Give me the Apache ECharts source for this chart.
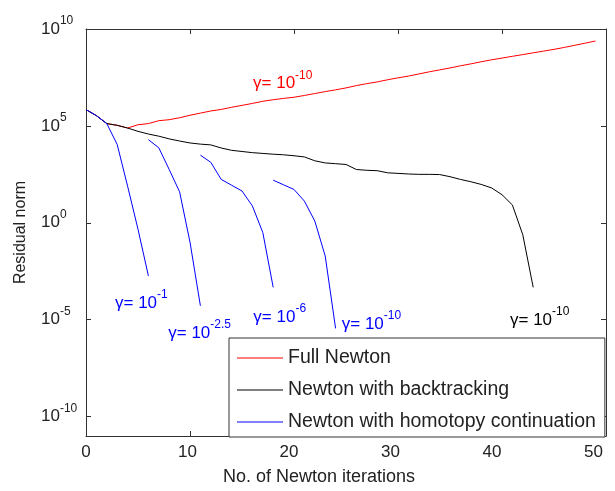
<!DOCTYPE html>
<html>
<head>
<meta charset="utf-8">
<script src="https://cdn.jsdelivr.net/npm/echarts@6/dist/echarts.min.js"></script>
<style>
  html, body { margin: 0; padding: 0; background: #fff; }
  #chart { width: 615px; height: 491px; }
</style>
</head>
<body>
<div id="chart"></div>
<script>
// Residual norm per Newton iteration, stored as log10 of the norm.
const fullNewtonIter = [0,1,2,3,4,5,6,7,8,9,10,11,12,13,14,15,16,17,18,19,20,21,22,23,24,25,26,27,28,29,30,31,32,33,34,35,36,37,38,39,40,41,42,43,44,45,46,47,48,49];
const fullNewtonLog = [5.84,5.53,5.12,5.03,4.89,5.06,5.12,5.27,5.32,5.42,
  5.55,5.66,5.77,5.85,5.96,6.06,6.16,6.27,6.35,6.42,
  6.48,6.57,6.67,6.77,6.86,6.96,7.08,7.18,7.27,7.38,
  7.48,7.57,7.68,7.79,7.89,7.99,8.10,8.20,8.31,8.41,
  8.50,8.59,8.68,8.77,8.86,8.95,9.05,9.16,9.27,9.38];

const backtrackIter = [0,1,2,3,4,5,6,7,8,9,10,11,12,13,14,15,16,17,18,19,20,21,22,23,24,25,26,27,28,29,30,31,32,33,34,35,36,37,38,39,40,41,42,43];
const backtrackLog = [5.84,5.53,5.12,5.03,4.89,4.72,4.58,4.47,4.33,4.22,
  4.12,4.06,4.02,3.86,3.74,3.68,3.62,3.58,3.54,3.51,
  3.46,3.40,3.20,3.09,3.05,3.01,2.75,2.71,2.69,2.58,
  2.55,2.52,2.50,2.50,2.49,2.38,2.24,2.12,1.98,1.80,
  1.45,0.92,-0.62,-3.33];

// Homotopy continuation: one Newton run per gamma step
const homotopyIter = [
  [0,1,2,3,4,5,6],
  [6,7,8,9,10,11],
  [11,12,13,14,15,16,17,18],
  [18,19,20,21,22,23,24]
];
const homotopyLog = [
  [5.84,5.53,5.12,4.04,1.89,-0.33,-2.74],
  [4.29,3.87,2.75,1.60,-1.00,-4.28],
  [3.49,3.12,2.24,1.94,1.64,0.87,-0.50,-3.33],
  [2.20,1.96,1.72,1.12,0.09,-1.71,-5.45]
];

const seriesNames = ['Full Newton', 'Newton with backtracking', 'Newton with homotopy continuation'];
const xTicks = [0, 10, 20, 30, 40, 50];
const yTickExponents = [-10, -5, 0, 5, 10];

// gamma labels: exponent text, colour, anchor [iteration, log10 norm] at the label's left-middle
const gammaLabels = [
  { exp: '-10',  color: '#ff0000', at: [16.06, 7.2] },
  { exp: '-1',   color: '#0000ff', at: [2.79, -4.14] },
  { exp: '-2.5', color: '#0000ff', at: [7.91, -5.68] },
  { exp: '-6',   color: '#0000ff', at: [16.09, -4.86] },
  { exp: '-10',  color: '#0000ff', at: [24.59, -5.22] },
  { exp: '-10',  color: '#000000', at: [40.77, -5.01] }
];

const pairs = (xs, logs) => xs.map((x, i) => [x, Math.pow(10, logs[i])]);
const yTickValues = yTickExponents.map(e => Math.pow(10, e));

const FONT = '"Liberation Sans", Arial, Helvetica, sans-serif';
const AXIS_COLOR = '#333';
const TEXT_COLOR = '#222';

const chart = echarts.init(document.getElementById('chart'), null, { renderer: 'canvas' });

const lineSeries = (name, data, color, z) => ({
  name, type: 'line', data, z,
  symbol: 'none', showSymbol: false, smooth: false,
  color: color,
  itemStyle: { color: color },
  lineStyle: { color: color, width: 1 },
  emphasis: { disabled: true },
  animation: false
});

const series = [
  lineSeries(seriesNames[0], pairs(fullNewtonIter, fullNewtonLog), '#ff0000', 2),
  lineSeries(seriesNames[1], pairs(backtrackIter, backtrackLog), '#000000', 3)
];
homotopyIter.forEach((xs, k) => {
  series.push(lineSeries(seriesNames[2], pairs(xs, homotopyLog[k]), '#0000ff', 4));
});

// bottom tick labels sit slightly left of their ticks, more so further right
const xLabelRich = {};
xTicks.forEach(v => {
  xLabelRich['t' + v] = { fontFamily: FONT, fontSize: 17, color: TEXT_COLOR, padding: [0, Math.round(v * 0.5), 0, 0] };
});

const tickStyle = { show: true, inside: true, length: 5, lineStyle: { color: AXIS_COLOR, width: 1 } };

chart.setOption({
  animation: false,
  backgroundColor: '#fff',
  grid: { left: 86, right: 9, top: 29, bottom: 54, containLabel: false },
  legend: {
    data: seriesNames,
    orient: 'vertical',
    left: 229, top: 338,
    padding: [9, 9, 4, 8],
    itemGap: 10,
    itemWidth: 46, itemHeight: 1,
    icon: 'rect',
    backgroundColor: '#fff',
    borderColor: AXIS_COLOR, borderWidth: 1, borderRadius: 0,
    selectedMode: false,
    textStyle: { fontFamily: FONT, fontSize: 19.5, color: TEXT_COLOR, lineHeight: 22, padding: [0, 0, 0, 0] },
    z: 10
  },
  xAxis: [
    {
      type: 'value', min: 0, max: 50, interval: 10, position: 'bottom',
      name: 'No. of Newton iterations', nameLocation: 'middle', nameGap: 32,
      nameTextStyle: { fontFamily: FONT, fontSize: 18, color: TEXT_COLOR, padding: [0, 54, 0, 0] },
      axisLine: { show: true, onZero: false, lineStyle: { color: AXIS_COLOR, width: 1 } },
      axisTick: tickStyle,
      axisLabel: {
        margin: 8,
        formatter: v => '{t' + v + '|' + v + '}',
        rich: xLabelRich
      },
      splitLine: { show: false }
    },
    {
      type: 'value', min: 0, max: 50, interval: 10, position: 'top',
      axisLine: { show: true, onZero: false, lineStyle: { color: AXIS_COLOR, width: 1 } },
      axisTick: tickStyle,
      axisLabel: { show: false },
      splitLine: { show: false }
    }
  ],
  yAxis: [
    {
      type: 'log', logBase: 10, min: 1e-11, max: 1e10, position: 'left',
      name: 'Residual norm', nameLocation: 'middle', nameGap: 57, nameRotate: 90,
      nameTextStyle: { fontFamily: FONT, fontSize: 16, color: TEXT_COLOR },
      axisLine: { show: true, onZero: false, lineStyle: { color: AXIS_COLOR, width: 1 } },
      axisTick: Object.assign({ customValues: yTickValues }, tickStyle),
      axisLabel: {
        customValues: yTickValues,
        align: 'left', margin: 45,
        formatter: v => '{b|10}{s|' + Math.round(Math.log10(v)) + '}',
        rich: {
          b: { fontFamily: FONT, fontSize: 17, color: TEXT_COLOR, lineHeight: 28 },
          s: { fontFamily: FONT, fontSize: 12, color: TEXT_COLOR, lineHeight: 12, verticalAlign: 'top' }
        }
      },
      splitLine: { show: false }
    },
    {
      type: 'log', logBase: 10, min: 1e-11, max: 1e10, position: 'right',
      axisLine: { show: true, onZero: false, lineStyle: { color: AXIS_COLOR, width: 1 } },
      axisTick: Object.assign({ customValues: yTickValues }, tickStyle),
      axisLabel: { show: false },
      splitLine: { show: false }
    }
  ],
  series
});

// gamma annotations placed through the axes' own coordinate conversion
const gammaGraphics = gammaLabels.map(g => {
  const p = chart.convertToPixel({ xAxisIndex: 0, yAxisIndex: 0 }, [g.at[0], Math.pow(10, g.at[1])]);
  return {
    type: 'text', x: p[0], y: p[1], z: 20, silent: true,
    style: {
      text: '{g|\u03b3=}{b| 10}{s|' + g.exp + '}',
      align: 'left', verticalAlign: 'middle',
      fill: g.color,
      rich: {
        g: { fontFamily: FONT, fontSize: 17, fill: g.color, lineHeight: 28 },
        b: { fontFamily: FONT, fontSize: 17, fill: g.color, lineHeight: 28 },
        s: { fontFamily: FONT, fontSize: 12, fill: g.color, lineHeight: 12, verticalAlign: 'top' }
      }
    }
  };
});
chart.setOption({ graphic: gammaGraphics });
</script>
</body>
</html>
